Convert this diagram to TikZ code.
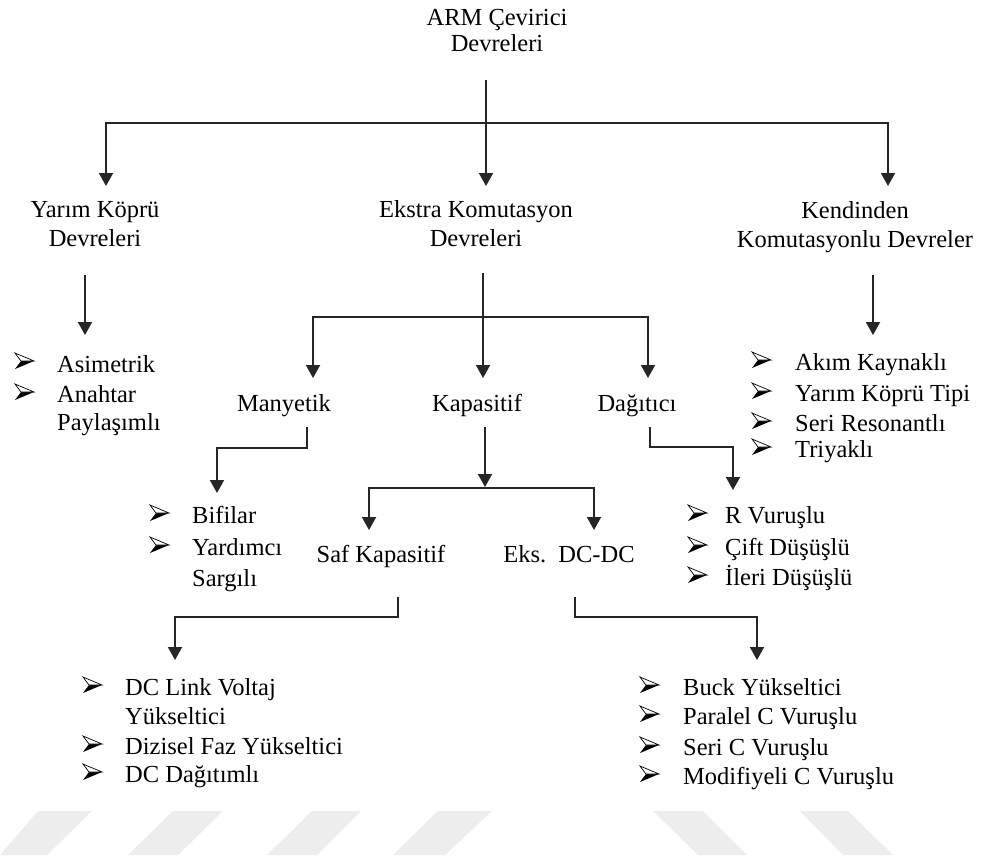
\documentclass[tikz,border=0pt]{standalone}
\usepackage{fontspec}
\setmainfont{Liberation Serif}
\usetikzlibrary{arrows.meta}
\begin{document}
\begin{tikzpicture}[x=1pt,y=-1pt,
  txt/.style={font=\fontsize{24.5}{28.5}\selectfont, inner sep=0pt, align=center, text=black},
  itm/.style={font=\fontsize{24.5}{29}\selectfont, inner sep=0pt, align=left, anchor=base west, text=black},
  con/.style={draw=black!85, line width=2pt},
  arr/.style={con, -{Triangle[width=14pt,length=13pt]}},
  wm/.style={fill=black!7, draw=none},
  bul/.pic={
    \fill[black] (6,0) -- (19,0) -- (0,8) -- cycle;
    \filldraw[fill=white, draw=black, line width=0.7pt] (0,-8) -- (19,0) -- (6,0) -- cycle;
  }
]
\useasboundingbox (0,0) rectangle (982,860);
\fill[white] (0,0) rectangle (982,860);

% watermark
\fill[wm] (38,811) -- (92,811) -- (47,855) -- (0,855) -- cycle;
\fill[wm] (173,811) -- (223,811) -- (178,855) -- (128,855) -- cycle;
\fill[wm] (312,811) -- (361,811) -- (317,855) -- (267,855) -- cycle;
\fill[wm] (438,811) -- (492,811) -- (445,855) -- (393,855) -- cycle;
\fill[wm] (653,811) -- (703,811) -- (747,855) -- (698,855) -- cycle;
\fill[wm] (800,811) -- (848,811) -- (893,855) -- (843,855) -- cycle;

% level 0 / 1 texts (base anchor = last line baseline)
\node[txt, anchor=base] (root) at (497,51) {ARM Çevirici\\[-2.5pt]Devreleri};
\node[txt, anchor=base] (yarim) at (95,246) {Yarım Köprü\\Devreleri};
\node[txt, anchor=base] (ekstra) at (476,246) {Ekstra Komutasyon\\Devreleri};
\node[txt, anchor=base] (kend) at (855,247) {Kendinden\\Komutasyonlu Devreler};

% level 2 texts
\node[txt, anchor=base] (many) at (284,411) {Manyetik};
\node[txt, anchor=base] (kapa) at (477,411) {Kapasitif};
\node[txt, anchor=base] (dagi) at (637,411) {Dağıtıcı};
\node[txt, anchor=base] (saf) at (381,562) {Saf Kapasitif};
\node[txt, anchor=base] (eks) at (569,562) {Eks.\ \ DC-DC};

% lists
\node[itm] (asim) at (57,372) {Asimetrik};
\node[itm] (anah) at (57,430) {Anahtar\\[-1pt]Paylaşımlı};
\pic at (15,361) {bul};
\pic at (15,392) {bul};

\node[itm] (akim) at (795,370) {Akım Kaynaklı};
\node[itm] (ykt) at (795,401) {Yarım Köprü Tipi};
\node[itm] (seri) at (795,431) {Seri Resonantlı};
\node[itm] (triy) at (795,457) {Triyaklı};
\pic at (752,360) {bul};
\pic at (752,391) {bul};
\pic at (752,421) {bul};
\pic at (752,447) {bul};

\node[itm] (bifi) at (192,523) {Bifilar};
\node[itm] (yard) at (192,586) {Yardımcı\\[2pt]Sargılı};
\pic at (150,513) {bul};
\pic at (150,545) {bul};

\node[itm] (rvur) at (725,523) {R Vuruşlu};
\node[itm] (cift) at (725,555) {Çift Düşüşlü};
\node[itm] (ileri) at (725,585) {İleri Düşüşlü};
\pic at (688,513) {bul};
\pic at (688,545) {bul};
\pic at (688,575) {bul};

\node[itm] (dcl) at (125,724) {DC Link Voltaj\\Yükseltici};
\node[itm] (dizi) at (125,754) {Dizisel Faz Yükseltici};
\node[itm] (dcd) at (125,782) {DC Dağıtımlı};
\pic at (83,685) {bul};
\pic at (83,744) {bul};
\pic at (83,772) {bul};

\node[itm] (buck) at (683,695) {Buck Yükseltici};
\node[itm] (para) at (683,724) {Paralel C Vuruşlu};
\node[itm] (seric) at (683,755) {Seri C Vuruşlu};
\node[itm] (modi) at (683,784) {Modifiyeli C Vuruşlu};
\pic at (640,685) {bul};
\pic at (640,714) {bul};
\pic at (640,745) {bul};
\pic at (640,774) {bul};

% connector coordinates
\coordinate (r0) at (486,80);
\coordinate (r1) at (486,123);
\coordinate (ty) at (106,186);
\coordinate (te) at (486,186);
\coordinate (tk) at (888,186);

\coordinate (y0) at (85,275);
\coordinate (y1) at (85,335);
\coordinate (k0) at (873,275);
\coordinate (k1) at (873,335);

\coordinate (e0) at (483,273);
\coordinate (e1) at (483,317);
\coordinate (tm) at (313,378);
\coordinate (tc) at (483,378);
\coordinate (td) at (648,378);

\coordinate (m0) at (307,427);
\coordinate (m1) at (217,493);
\coordinate (c0) at (485,427);
\coordinate (c1) at (485,487);
\coordinate (ts) at (369,530);
\coordinate (tx) at (594,530);
\coordinate (d0) at (650,427);
\coordinate (d1) at (733,490);

\coordinate (s0) at (398,597);
\coordinate (s1) at (175,660);
\coordinate (x0) at (575,597);
\coordinate (x1) at (757,660);

% connectors
\draw[con] (r0) -- (r1);
\draw[arr] (r1) -| (ty);
\draw[arr] (r1) -- (te);
\draw[arr] (r1) -| (tk);

\draw[arr] (y0) -- (y1);
\draw[arr] (k0) -- (k1);

\draw[con] (e0) -- (e1);
\draw[arr] (e1) -| (tm);
\draw[arr] (e1) -- (tc);
\draw[arr] (e1) -| (td);

\draw[arr] (m0) -- ++(0,21) -| (m1);
\draw[arr] (c0) -- (c1);
\draw[arr] (c1) ++(0,1) -| (ts);
\draw[arr] (c1) ++(0,1) -| (tx);
\draw[arr] (d0) -- ++(0,20) -| (d1);

\draw[arr] (s0) -- ++(0,20) -| (s1);
\draw[arr] (x0) -- ++(0,20) -| (x1);
\end{tikzpicture}
\end{document}
